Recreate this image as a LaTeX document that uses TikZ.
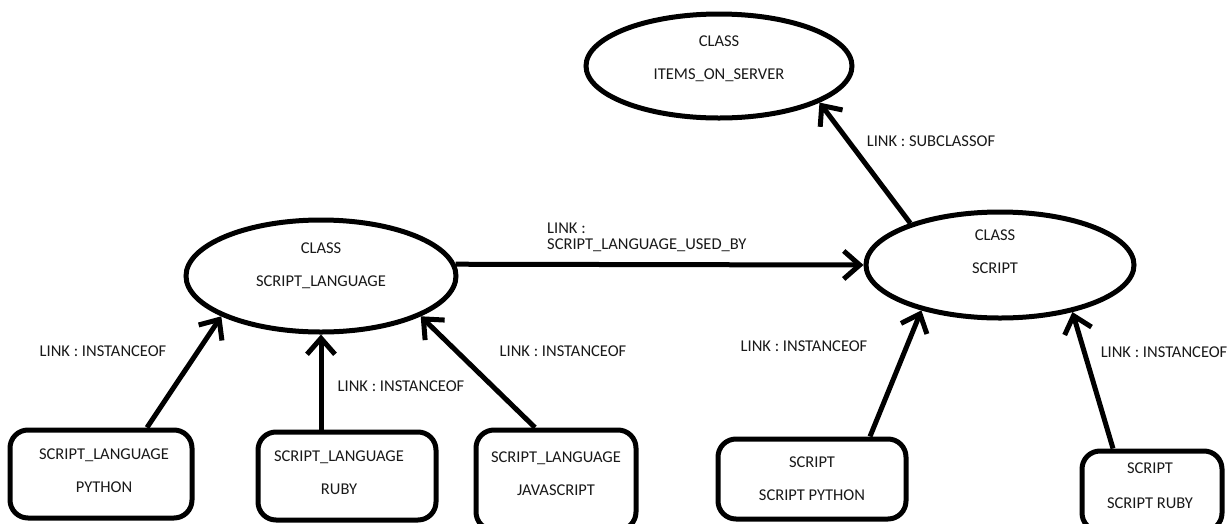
\documentclass[tikz,border=0pt]{standalone}
\usepackage{fontspec}
\setmainfont{Carlito}
\usetikzlibrary{shapes.geometric,arrows.meta}
\begin{document}
\begin{tikzpicture}[x=1pt,y=-1pt,
  ell/.style={draw,ellipse,line width=5pt,inner sep=0pt},
  box/.style={draw,rounded corners=18pt,line width=5pt,inner sep=0pt},
  txt/.style={font=\fontsize{16.5}{33}\selectfont,align=center,inner sep=0pt,text=black!90},
  lbl/.style={font=\fontsize{16.5}{20}\selectfont,inner sep=0pt,text=black!90},
  arr/.style={line width=5pt,-{Straight Barb[length=16pt,width=28pt]}},
]
\clip (0,0) rectangle (1229,523);
\fill[white] (0,0) rectangle (1229,523);
% ellipses
\node[ell,minimum width=266pt,minimum height=104pt] (e3) at (719,66) {};
\node[ell,minimum width=270pt,minimum height=112pt] (e1) at (321,276) {};
\node[ell,minimum width=268pt,minimum height=106pt] (e2) at (1000,265) {};
\node[txt] (t3) at (719,58.5) {CLASS\\ITEMS\_ON\_SERVER};
\node[txt] (t1) at (321,265.5) {CLASS\\SCRIPT\_LANGUAGE};
\node[txt] (t2) at (995,251.5) {CLASS\\SCRIPT};
% boxes
\node[box,minimum width=182pt,minimum height=88pt] (b1) at (101,474) {};
\node[box,minimum width=178pt,minimum height=88pt] (b2) at (347,476) {};
\node[box,minimum width=160pt,minimum height=100pt] (b3) at (556,480) {};
\node[box,minimum width=188pt,minimum height=80pt] (b4) at (812,479) {};
\node[box,minimum width=140pt,minimum height=80pt] (b5) at (1152,491) {};
\node[txt] (s1) at (104,470.5) {SCRIPT\_LANGUAGE\\PYTHON};
\node[txt] (s2) at (339,472.5) {SCRIPT\_LANGUAGE\\RUBY};
\node[txt] (s3) at (556,474) {SCRIPT\_LANGUAGE\\JAVASCRIPT};
\node[txt] (s4) at (812,479) {SCRIPT\\SCRIPT PYTHON};
\node[txt] (s5) at (1150,485.5) {SCRIPT\\[2pt]SCRIPT RUBY};
% arrows
\draw[arr] ([xshift=46pt]b1.north) -- (e1.202.7);
\draw[arr] ([xshift=-26pt]b2.north) -- (e1.south);
\draw[arr] ([xshift=-21pt]b3.north) -- (e1.338.8);
\draw[arr] ([xshift=58pt]b4.north) -- (e2.210.8);
\draw[arr] ([xshift=-39pt]b5.north) -- (e2.327.8);
\draw[arr] (e1.5) -- (e2.west);
\draw[arr] (e2.155.6) -- (e3.340);
% labels
\node[lbl] (l1) at (103,351) {LINK : INSTANCEOF};
\node[lbl] (l2) at (401,386) {LINK : INSTANCEOF};
\node[lbl] (l3) at (563,351) {LINK : INSTANCEOF};
\node[lbl] (l4) at (804,346) {LINK : INSTANCEOF};
\node[lbl] (l5) at (1164,352) {LINK : INSTANCEOF};
\node[lbl,anchor=west] (l6) at (547,228) {LINK :};
\node[lbl,anchor=west] (l7) at (547,245) {SCRIPT\_LANGUAGE\_USED\_BY};
\node[lbl] (l8) at (931,141) {LINK : SUBCLASSOF};
\end{tikzpicture}
\end{document}
